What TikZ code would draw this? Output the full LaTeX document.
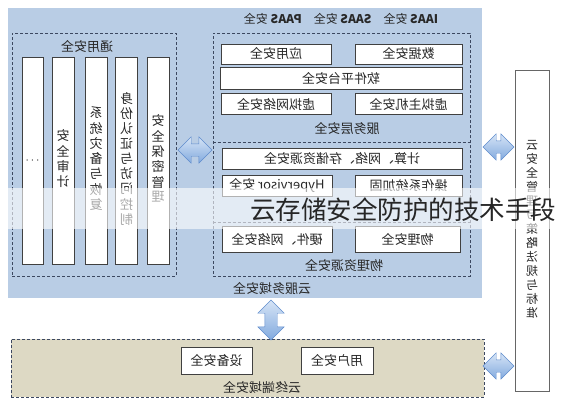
\documentclass[tikz,border=0pt]{standalone}
\usepackage{fontspec}
\usepackage{graphicx}
\setmainfont{Noto Sans CJK SC}
\usetikzlibrary{shapes.arrows}

\definecolor{svcblue}{RGB}{185,205,229}
\definecolor{endtan}{RGB}{221,217,196}
\definecolor{dashgray}{RGB}{60,72,96}
\definecolor{boxgray}{RGB}{64,64,64}
\definecolor{txtgray}{RGB}{40,40,40}
\definecolor{arrlight}{RGB}{214,228,246}
\definecolor{arrdark}{RGB}{130,170,222}
\definecolor{arredge}{RGB}{95,140,205}

% the whole drawing is a mirror image, so every text is reflected
\newcommand\mir[1]{\reflectbox{#1}}
\newcommand\vcol[1]{\reflectbox{\begin{tabular}{@{}c@{}}#1\end{tabular}}}

\begin{document}
\begin{tikzpicture}[x=1pt,y=-1pt]
    \tikzset{
        wbox/.style={draw=boxgray, fill=white, line width=0.8pt, inner sep=0pt,
            text=txtgray, font=\fontsize{13}{14.6}\selectfont},
        dbox/.style={draw=dashgray, dash pattern=on 3pt off 2pt, line width=0.8pt, inner sep=0pt},
        lbl/.style={text=txtgray, inner sep=0pt, font=\fontsize{13}{14}\selectfont},
        dblarr/.style={double arrow, draw=arredge, top color=arrlight, bottom color=arrdark,
            inner sep=6pt, double arrow head extend=7pt, double arrow head indent=0pt},
    }
    \useasboundingbox (0,0) rectangle (561,400);

    % cloud service domain
    \node[fill=svcblue, minimum width=474pt, minimum height=290pt, inner sep=0pt] (svc) at (245,153) {};
    \node[lbl] (svclbl) at (272,288) {\mir{云服务域安全}};
    \node[lbl, font=\fontsize{12}{13}\selectfont] (kinds) at (341,19)
        {\mir{\textbf{IAAS} 安全\quad \textbf{SAAS} 安全\quad \textbf{PAAS} 安全}};

    % general security
    \node[dbox, minimum width=164pt, minimum height=243pt] (gen) at (94,154.5) {};
    \node[lbl] (genlbl) at (87,47) {\mir{通用安全}};
    \node[wbox, minimum width=21pt, minimum height=207pt] (c1) at (32.5,160.5) {\textbf{$\cdots$}};
    \node[wbox, minimum width=22pt, minimum height=207pt] (c2) at (63,160.5) {\vcol{安\\全\\审\\计}};
    \node[wbox, minimum width=22pt, minimum height=207pt] (c3) at (96,160.5) {\vcol{系\\统\\灾\\备\\与\\恢\\复}};
    \node[wbox, minimum width=22pt, minimum height=207pt] (c4) at (126.5,160.5) {\vcol{身\\份\\认\\证\\与\\访\\问\\控\\制}};
    \node[wbox, minimum width=22pt, minimum height=207pt] (c5) at (158,160.5) {\vcol{安\\全\\保\\密\\管\\理}};

    % service layer and resources
    \node[dbox, minimum width=257pt, minimum height=243pt] (res) at (341.5,154.5) {};
    \draw[dbox] (res.west |- 0,142) -- (res.east |- 0,142);
    \draw[dbox] (res.west |- 0,222) -- (res.east |- 0,222);
    \node[wbox, minimum width=110pt, minimum height=20pt] (app) at (276,54) {\mir{应用安全}};
    \node[wbox, minimum width=107pt, minimum height=20pt] (data) at (408.5,54) {\mir{数据安全}};
    \node[wbox, minimum width=242pt, minimum height=22pt] (soft) at (341,78.5) {\mir{软件平台安全}};
    \node[wbox, minimum width=110pt, minimum height=21pt] (vnet) at (276,104) {\mir{虚拟网络安全}};
    \node[wbox, minimum width=107pt, minimum height=21pt] (vhost) at (408.5,104) {\mir{虚拟主机安全}};
    \node[lbl] (srvlbl) at (347,129) {\mir{服务层安全}};
    \node[wbox, minimum width=240pt, minimum height=21pt] (comp) at (342,158.5) {\mir{计算、网络、存储资源安全}};
    \node[wbox, minimum width=110pt, minimum height=21pt] (hyp) at (277,185.5) {\mir{Hypervisor 安全}};
    \node[wbox, minimum width=107pt, minimum height=21pt] (os) at (408.5,185.5) {\mir{操作系统加固}};
    \node[wbox, minimum width=110pt, minimum height=26pt] (hw) at (277,239.5) {\mir{硬件、网络安全}};
    \node[wbox, minimum width=105pt, minimum height=26pt] (phy) at (407.5,239.5) {\mir{物理安全}};
    \node[lbl] (reslbl) at (344,265) {\mir{物理资源安全}};

    % standards
    \node[wbox, draw=boxgray!80, minimum width=34pt, minimum height=321pt,
        font=\fontsize{12}{13.3}\selectfont] (std) at (532,230.5)
        {\vcol{云\\安\\全\\管\\理\\与\\策\\略\\法\\规\\与\\标\\准}};

    % cloud terminal domain
    \node[dbox, fill=endtan, minimum width=473pt, minimum height=58pt] (term) at (247.5,368) {};
    \node[wbox, minimum width=71pt, minimum height=27pt] (dev) at (216.5,360.5) {\mir{设备安全}};
    \node[wbox, minimum width=72pt, minimum height=27pt] (usr) at (337,360.5) {\mir{用户安全}};
    \node[lbl] (termlbl) at (262,387) {\mir{云终端域安全}};

    % block arrows
    \node[dblarr, minimum height=34pt] (a1) at (195,150) {};
    \node[dblarr, minimum height=31pt] (a2) at (498.5,147) {};
    \node[dblarr, minimum height=31pt] (a3) at (498.5,366) {};
    \node[dblarr, minimum height=40pt, rotate=90] (a4) at (271,320) {};

    % overlay band
    \fill[white, opacity=0.6] (0,188) rectangle (561,229);
    \node[anchor=west, inner sep=0pt, text=black!85, font=\fontsize{25.5}{26}\selectfont] (wm) at (250,210)
        {云存储安全防护的技术手段};
\end{tikzpicture}
\end{document}
